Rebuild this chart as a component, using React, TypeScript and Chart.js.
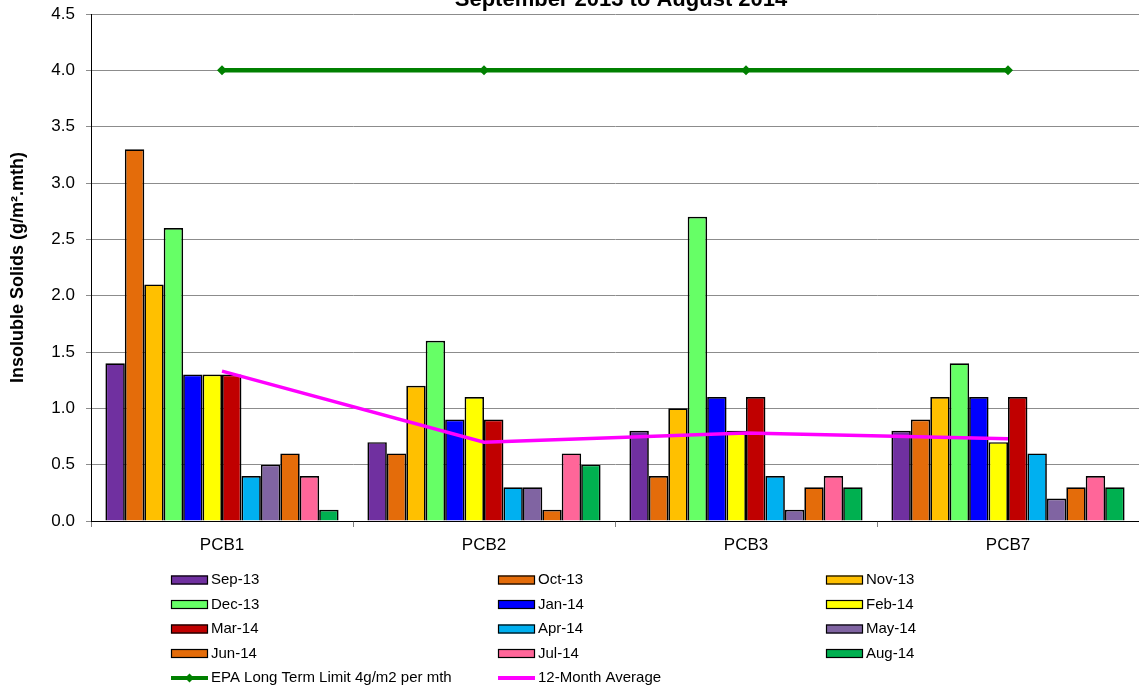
import React, { useEffect, useRef } from "react";
import { Chart, registerables } from "chart.js";

Chart.register(...registerables);

const categories = ["PCB1", "PCB2", "PCB3", "PCB7"];
const months = ["Sep-13", "Oct-13", "Nov-13", "Dec-13", "Jan-14", "Feb-14", "Mar-14", "Apr-14", "May-14", "Jun-14", "Jul-14", "Aug-14"];
const monthColors = ["#7030A0", "#E46C0A", "#FFC000", "#66FF66", "#0000FF", "#FFFF00", "#C00000", "#00B0F0", "#8064A2", "#E46C0A", "#FF6699", "#00B050"];

const sep13 = [1.4, 0.7, 0.8, 0.8];
const oct13 = [3.3, 0.6, 0.4, 0.9];
const nov13 = [2.1, 1.2, 1.0, 1.1];
const dec13 = [2.6, 1.6, 2.7, 1.4];
const jan14 = [1.3, 0.9, 1.1, 1.1];
const feb14 = [1.3, 1.1, 0.8, 0.7];
const mar14 = [1.3, 0.9, 1.1, 1.1];
const apr14 = [0.4, 0.3, 0.4, 0.6];
const may14 = [0.5, 0.3, 0.1, 0.2];
const jun14 = [0.6, 0.1, 0.3, 0.3];
const jul14 = [0.4, 0.6, 0.4, 0.4];
const aug14 = [0.1, 0.5, 0.3, 0.3];
const monthValues = [sep13, oct13, nov13, dec13, jan14, feb14, mar14, apr14, may14, jun14, jul14, aug14];

const epaLimit = [4, 4, 4, 4];
const average12 = [1.33, 0.7, 0.78, 0.73];

const yTicks = [0, 0.5, 1, 1.5, 2, 2.5, 3, 3.5, 4, 4.5];

const titleText = "September 2013 to August 2014";
const yTitle = "Insoluble Solids (g/m\u00B2.mth)";
const epaLabel = "EPA Long Term Limit 4g/m2 per mth";
const avgLabel = "12-Month Average";

const FONT = '"Liberation Sans", Arial, sans-serif';

const zeroPad = (s: any) => {
  s.paddingTop = 0;
  s.paddingBottom = 0;
  s.paddingLeft = 0;
  s.paddingRight = 0;
};

export default function App() {
  const ref = useRef<HTMLCanvasElement | null>(null);

  useEffect(() => {
    if (!ref.current) return;

    const barSets = months.map((m, i) => ({
      type: "bar" as const,
      label: m,
      data: monthValues[i],
      backgroundColor: monthColors[i],
      borderColor: "#000000",
      borderWidth: 1.7,
      categoryPercentage: 0.89,
      barPercentage: 1.0,
      order: 2,
    }));

    const legendItems = [
      ...months.map((m, i) => ({ kind: "box", label: m, color: monthColors[i] })),
      { kind: "epa", label: epaLabel, color: "#008000" },
      { kind: "line", label: avgLabel, color: "#FF00FF" },
    ];

    const overlay = {
      id: "overlay",
      afterDraw(chart: any) {
        const ctx = chart.ctx;
        ctx.save();
        ctx.fillStyle = "#000";
        ctx.font = `bold 22px ${FONT}`;
        ctx.textAlign = "center";
        ctx.textBaseline = "alphabetic";
        ctx.fillText(titleText, 621, 6);

        const colX = [171, 498, 826];
        const rowY = [580, 604.5, 629, 653.5, 678];
        ctx.font = `15px ${FONT}`;
        ctx.textAlign = "left";
        ctx.textBaseline = "middle";
        legendItems.forEach((it, idx) => {
          const c = idx % 3;
          const r = Math.floor(idx / 3);
          const x = colX[c];
          const y = rowY[r];
          if (it.kind === "box") {
            ctx.fillStyle = it.color;
            ctx.fillRect(x, y - 4.5, 37, 9);
            ctx.strokeStyle = "#000";
            ctx.lineWidth = 1.2;
            ctx.strokeRect(x + 0.5, y - 4, 36, 8);
          } else {
            ctx.strokeStyle = it.color;
            ctx.lineWidth = 4;
            ctx.beginPath();
            ctx.moveTo(x, y);
            ctx.lineTo(x + 37, y);
            ctx.stroke();
            if (it.kind === "epa") {
              ctx.fillStyle = it.color;
              ctx.beginPath();
              ctx.moveTo(x + 18.5, y - 4.5);
              ctx.lineTo(x + 23, y);
              ctx.lineTo(x + 18.5, y + 4.5);
              ctx.lineTo(x + 14, y);
              ctx.closePath();
              ctx.fill();
            }
          }
          ctx.fillStyle = "#000";
          ctx.fillText(it.label, x + 40, y);
        });
        ctx.restore();
      },
    };

    const chart = new Chart(ref.current, {
      data: {
        labels: categories,
        datasets: [
          ...barSets,
          {
            type: "line" as const,
            label: epaLabel,
            data: epaLimit,
            borderColor: "#008000",
            backgroundColor: "#008000",
            borderWidth: 4.5,
            pointStyle: "rectRot",
            pointRadius: 5,
            pointBorderWidth: 0,
            order: 0,
          },
          {
            type: "line" as const,
            label: avgLabel,
            data: average12,
            borderColor: "#FF00FF",
            backgroundColor: "#FF00FF",
            borderWidth: 3.5,
            pointRadius: 0,
            tension: 0,
            order: 1,
          },
        ],
      } as any,
      options: {
        responsive: false,
        animation: false,
        layout: { autoPadding: false, padding: { top: 14, bottom: 129, left: 0, right: 0 } },
        plugins: {
          legend: { display: false },
          title: { display: false },
          tooltip: { enabled: false },
        },
        scales: {
          x: {
            offset: true,
            grid: {
              offset: true,
              drawOnChartArea: false,
              drawTicks: true,
              tickLength: 6,
              color: "#808080",
            },
            border: { color: "#000000", width: 1 },
            ticks: {
              color: "#000",
              font: { family: FONT, size: 17 },
              padding: 8,
            },
            afterFit: (s: any) => {
              s.height = 40;
              zeroPad(s);
            },
          },
          y: {
            min: 0,
            max: 4.5,
            afterBuildTicks: (s: any) => {
              s.ticks = yTicks.map((v) => ({ value: v }));
            },
            grid: {
              color: "#8c8c8c",
              lineWidth: 1,
              drawTicks: true,
              tickLength: 5,
            },
            border: { color: "#000000", width: 1 },
            ticks: {
              color: "#000",
              font: { family: FONT, size: 17 },
              padding: 11,
              callback: (v: any) => Number(v).toFixed(1),
            },
            title: {
              display: true,
              text: yTitle,
              color: "#000",
              font: { family: FONT, size: 18, weight: "bold" },
              padding: { top: 7, bottom: 0 },
            },
            afterFit: (s: any) => {
              s.width = 91;
              zeroPad(s);
            },
          },
        },
      },
      plugins: [overlay],
    });

    return () => chart.destroy();
  }, []);

  return (
    <div style={{ position: "absolute", left: 0, top: 0, width: 1139, height: 690, background: "#fff" }}>
      <canvas ref={ref} width={1139} height={690} style={{ width: 1139, height: 690, display: "block" }} />
    </div>
  );
}
